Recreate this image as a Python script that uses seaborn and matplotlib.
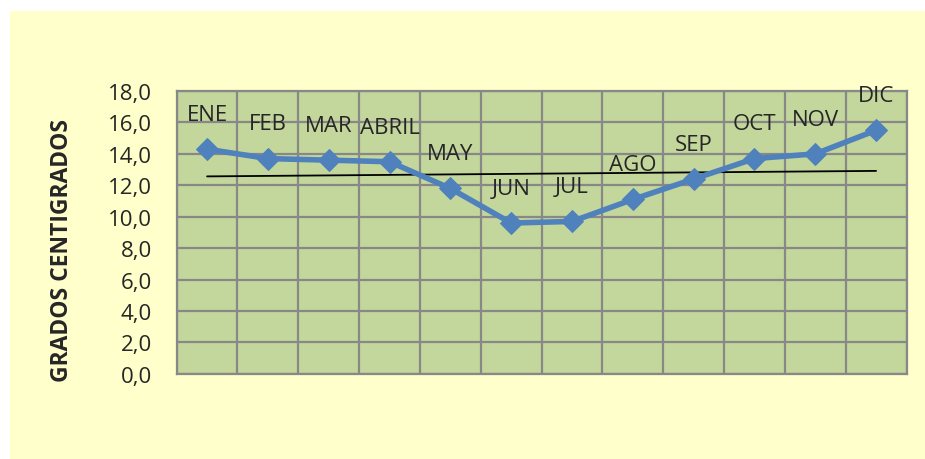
import matplotlib.pyplot as plt
import numpy as np
import pandas as pd
import seaborn as sns

meses = ['ENE', 'FEB', 'MAR', 'ABRIL', 'MAY', 'JUN', 'JUL', 'AGO', 'SEP', 'OCT', 'NOV', 'DIC']
temperatura = [14.3, 13.7, 13.6, 13.5, 11.8, 9.6, 9.7, 11.1, 12.4, 13.7, 14.0, 15.5]
yticks = [0, 2, 4, 6, 8, 10, 12, 14, 16, 18]

df = pd.DataFrame({'pos': np.arange(len(meses)), 'mes': meses, 'temp': temperatura})

sns.set_style('white')
plt.rcParams['font.family'] = ['Open Sans', 'DejaVu Sans']

fig = plt.figure(figsize=(9.25, 4.6), dpi=100)
fig.patch.set_facecolor('white')
# fondo amarillo del grafico
fig.patches.append(plt.Rectangle((10 / 925, 0), 1, 1 - 12 / 460, transform=fig.transFigure,
                                 facecolor='#FFFFCC', edgecolor='none', zorder=-10))

ax = fig.add_axes([0.191, 0.185, 0.789, 0.615])
ax.set_facecolor('#C3D69B')

# linea de tendencia
m, b = np.polyfit(df['pos'], df['temp'], 1)
ax.plot(df['pos'], m * df['pos'] + b, color='black', lw=1.3, zorder=3)

sns.lineplot(data=df, x='pos', y='temp', ax=ax, color='#4F81BD', lw=4,
             marker='D', markersize=11, markeredgecolor='#4F81BD', zorder=4)

for _, r in df.iterrows():
    ax.annotate(r['mes'], (r['pos'], r['temp']), xytext=(0, 25), textcoords='offset points',
                ha='center', va='center', fontsize=16)

ax.set_xlim(-0.5, len(meses) - 0.5)
ax.set_ylim(0, 18)
ax.set_yticks(yticks)
ax.set_yticklabels([f'{v:.1f}'.replace('.', ',') for v in yticks], fontsize=16)
ax.set_xticks(np.arange(-0.5, len(meses), 1))
ax.set_xticklabels([])
ax.tick_params(axis='x', length=0)
ax.tick_params(axis='y', length=6, width=1.5, color='#888888', pad=12)
ax.grid(True, color='#888888', lw=1.6)
ax.set_axisbelow(True)
for s in ax.spines.values():
    s.set_color('#888888')
    s.set_linewidth(1.6)

ax.set_xlabel('')
ax.set_ylabel('GRADOS CENTIGRADOS', fontsize=16.5, fontweight='bold')
ax.yaxis.set_label_coords(-0.14, 0.44)

fig.savefig('out.png', dpi=100, facecolor=fig.get_facecolor())
